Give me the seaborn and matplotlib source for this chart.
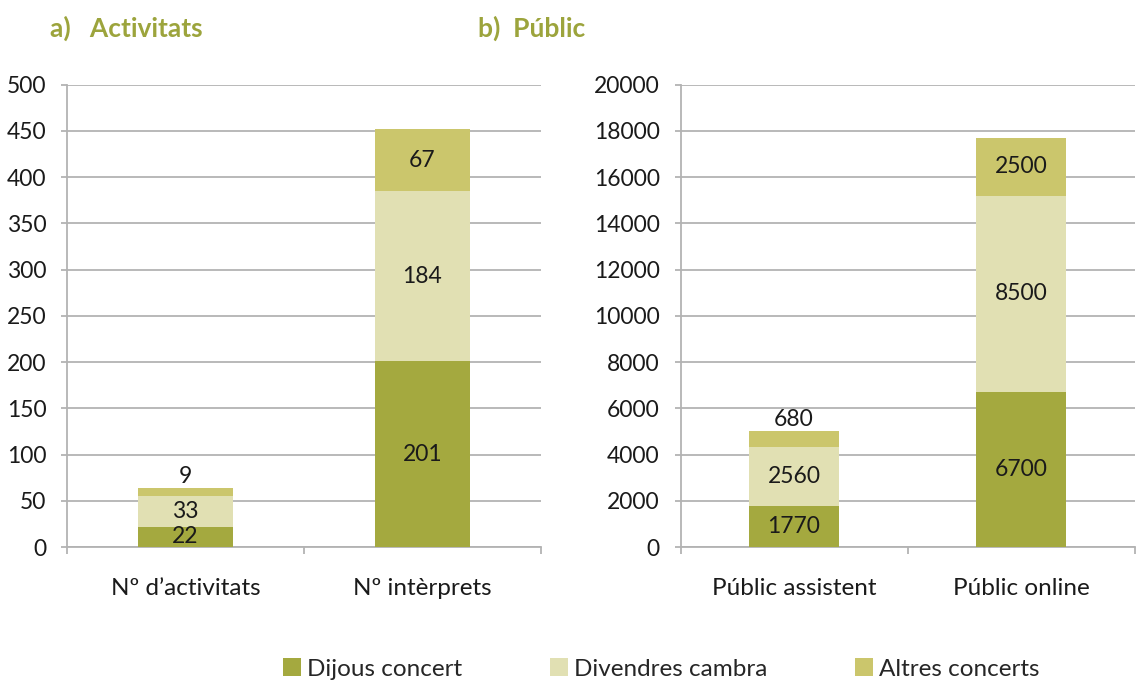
import matplotlib
matplotlib.use("Agg")
import matplotlib.pyplot as plt
import seaborn as sns
import pandas as pd
from matplotlib.patches import Patch

sns.set_theme(style="white")
plt.rcParams['font.family'] = ['Lato', 'DejaVu Sans']

series = ["Dijous concert", "Divendres cambra", "Altres concerts"]
colors = ["#a4a93f", "#e1e0b3", "#cbc66c"]

cats_a = ["Nº d’activitats", "Nº intèrprets"]
dijous_a = [22, 201]
divendres_a = [33, 184]
altres_a = [9, 67]

cats_b = ["Públic assistent", "Públic online"]
dijous_b = [1770, 6700]
divendres_b = [2560, 8500]
altres_b = [680, 2500]

title_color = "#9ca43c"
grid_color = "#b3b3b3"
fs_num = 16.5
fs_txt = 17.5

fig = plt.figure(figsize=(11.38, 6.86), dpi=100)
ax_a = fig.add_axes([0.059, 0.2026, 0.416, 0.674])
ax_b = fig.add_axes([0.598, 0.2026, 0.399, 0.674])


def draw(ax, cats, vals, ymax, ystep, small_thresh):
    bottom = [0] * len(cats)
    for s, (name, v, c) in enumerate(zip(series, vals, colors)):
        df = pd.DataFrame({"cat": cats, "val": v})
        sns.barplot(data=df, x="cat", y="val", color=c, bottom=bottom, width=0.4,
                    ax=ax, saturation=1, zorder=3, edgecolor="none")
        for i, (b, val) in enumerate(zip(bottom, v)):
            if val < small_thresh and s == len(series) - 1:
                ax.text(i, b + val + ymax * 0.002, f"{val}", ha="center", va="bottom",
                        fontsize=fs_num, color="#1a1a1a", zorder=5)
            else:
                ax.text(i, b + val / 2, f"{val}", ha="center", va="center",
                        fontsize=fs_num, color="#1a1a1a", zorder=5)
        bottom = [b + x for b, x in zip(bottom, v)]
    ax.set_ylim(0, ymax)
    ax.set_xlim(-0.5, 1.5)
    ax.set_yticks(range(0, ymax + 1, ystep))
    ax.set_xlabel("")
    ax.set_ylabel("")
    ax.grid(axis="y", color=grid_color, linewidth=1.3, zorder=0)
    ax.grid(axis="x", visible=False)
    for sp in ["top", "right"]:
        ax.spines[sp].set_visible(False)
    for sp in ["left", "bottom"]:
        ax.spines[sp].set_color(grid_color)
        ax.spines[sp].set_linewidth(1.3)
    ax.tick_params(axis="y", which="major", left=True, length=4, width=1.3, color=grid_color,
                   pad=11, labelsize=fs_num, labelcolor="#1a1a1a")
    ax.tick_params(axis="x", which="major", bottom=False, pad=16, labelsize=fs_txt,
                   labelcolor="#1a1a1a")
    ax.set_xticks([-0.5, 0.5, 1.5], minor=True)
    ax.tick_params(axis="x", which="minor", bottom=True, length=5, width=1.3, color=grid_color)


draw(ax_a, cats_a, [dijous_a, divendres_a, altres_a], 500, 50, 15)
draw(ax_b, cats_b, [dijous_b, divendres_b, altres_b], 20000, 2000, 1000)

fig.text(0.044, 0.958, "a)   Activitats", fontsize=19, fontweight="bold", color=title_color,
         ha="left", va="center")
fig.text(0.420, 0.958, "b)  Públic", fontsize=19, fontweight="bold", color=title_color,
         ha="left", va="center")

handles = [Patch(facecolor=c, edgecolor="none") for c in colors]
fig.legend(handles, series, loc="center", bbox_to_anchor=(0.581, 0.025), ncol=3, frameon=False,
           fontsize=fs_txt, handlelength=0.75, handleheight=0.75, handletextpad=0.25,
           columnspacing=3.6)

fig.savefig("out.png", dpi=100, facecolor="white")
